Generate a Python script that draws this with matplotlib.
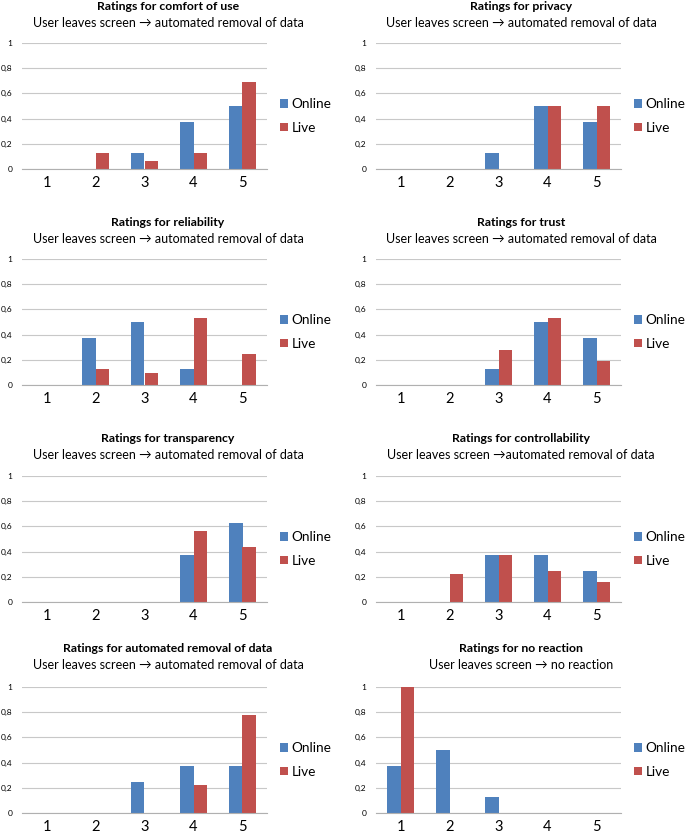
import numpy as np
import matplotlib
matplotlib.use('Agg')
import matplotlib.pyplot as plt

plt.rcParams['font.family'] = ['Lato', 'DejaVu Sans']

# Rating categories
ratings = ['1', '2', '3', '4', '5']

# Panel titles and subtitles
titles = ['Ratings for comfort of use', 'Ratings for privacy',
          'Ratings for reliability', 'Ratings for trust',
          'Ratings for transparency', 'Ratings for controllability',
          'Ratings for automated removal of data', 'Ratings for no reaction']
subtitles = ['User leaves screen \u2192 automated removal of data'] * 5 + \
            ['User leaves screen \u2192automated removal of data',
             'User leaves screen \u2192 automated removal of data',
             'User leaves screen \u2192 no reaction']

# Relative frequencies per rating (Online / Live)
online_comfort = [0, 0, 0.125, 0.375, 0.5]
live_comfort = [0, 0.125, 0.0625, 0.125, 0.6875]
online_privacy = [0, 0, 0.125, 0.5, 0.375]
live_privacy = [0, 0, 0, 0.5, 0.5]
online_reliability = [0, 0.375, 0.5, 0.125, 0]
live_reliability = [0, 0.125, 0.094, 0.531, 0.25]
online_trust = [0, 0, 0.125, 0.5, 0.375]
live_trust = [0, 0, 0.281, 0.531, 0.188]
online_transparency = [0, 0, 0, 0.375, 0.625]
live_transparency = [0, 0, 0, 0.5625, 0.4375]
online_control = [0, 0, 0.375, 0.375, 0.25]
live_control = [0, 0.219, 0.375, 0.25, 0.156]
online_removal = [0, 0, 0.25, 0.375, 0.375]
live_removal = [0, 0, 0, 0.219, 0.781]
online_noreact = [0.375, 0.5, 0.125, 0, 0]
live_noreact = [1.0, 0, 0, 0, 0]

online = [online_comfort, online_privacy, online_reliability, online_trust,
          online_transparency, online_control, online_removal, online_noreact]
live = [live_comfort, live_privacy, live_reliability, live_trust,
        live_transparency, live_control, live_removal, live_noreact]

blue = '#4F81BD'
red = '#C0504D'

W, H = 685, 835
fig = plt.figure(figsize=(W / 100, H / 100), dpi=100)

# pixel layout of plot areas
col_left = [22, 376]
row_top = [43, 259, 476, 687]
ax_w, ax_h = 245, 126
title_y = [7, 223, 439, 649]
title_x = [168, 521]

x = np.arange(len(ratings))
bw = 0.28

for i in range(8):
    r, c = divmod(i, 2)
    ax = fig.add_axes([col_left[c] / W, 1 - (row_top[r] + ax_h) / H, ax_w / W, ax_h / H])
    ax.bar(x - bw / 2, online[i], bw, color=blue, label='Online', zorder=3)
    ax.bar(x + bw / 2, live[i], bw, color=red, label='Live', zorder=3)
    ax.set_xlim(-0.5, 4.5)
    ax.set_ylim(0, 1)
    ax.set_yticks([0, 0.2, 0.4, 0.6, 0.8, 1])
    ax.set_yticklabels(['0', '0,2', '0,4', '0,6', '0,8', '1'], fontsize=6)
    ax.set_xticks(x)
    ax.set_xticklabels(ratings, fontsize=10.5)
    ax.tick_params(length=0)
    ax.tick_params(axis='x', pad=5)
    ax.tick_params(axis='y', pad=7)
    ax.grid(axis='y', color='#C8C8C8', linewidth=0.8, zorder=0)
    for s in ['top', 'right', 'left']:
        ax.spines[s].set_visible(False)
    ax.spines['bottom'].set_color('#B0B0B0')
    ax.spines['bottom'].set_zorder(4)
    ax.legend(loc='center left', bbox_to_anchor=(1.02, 0.42), frameon=False,
              fontsize=9.8, handlelength=0.55, handleheight=0.55,
              handletextpad=0.3, labelspacing=0.85, borderaxespad=0.2)

    fig.text(title_x[c] / W, 1 - title_y[r] / H, titles[i], ha='center', va='center',
             fontsize=8.8, fontweight='bold')
    fig.text(title_x[c] / W, 1 - (title_y[r] + 16) / H, subtitles[i], ha='center',
             va='center', fontsize=9.0)

fig.savefig('out.png', dpi=100)
